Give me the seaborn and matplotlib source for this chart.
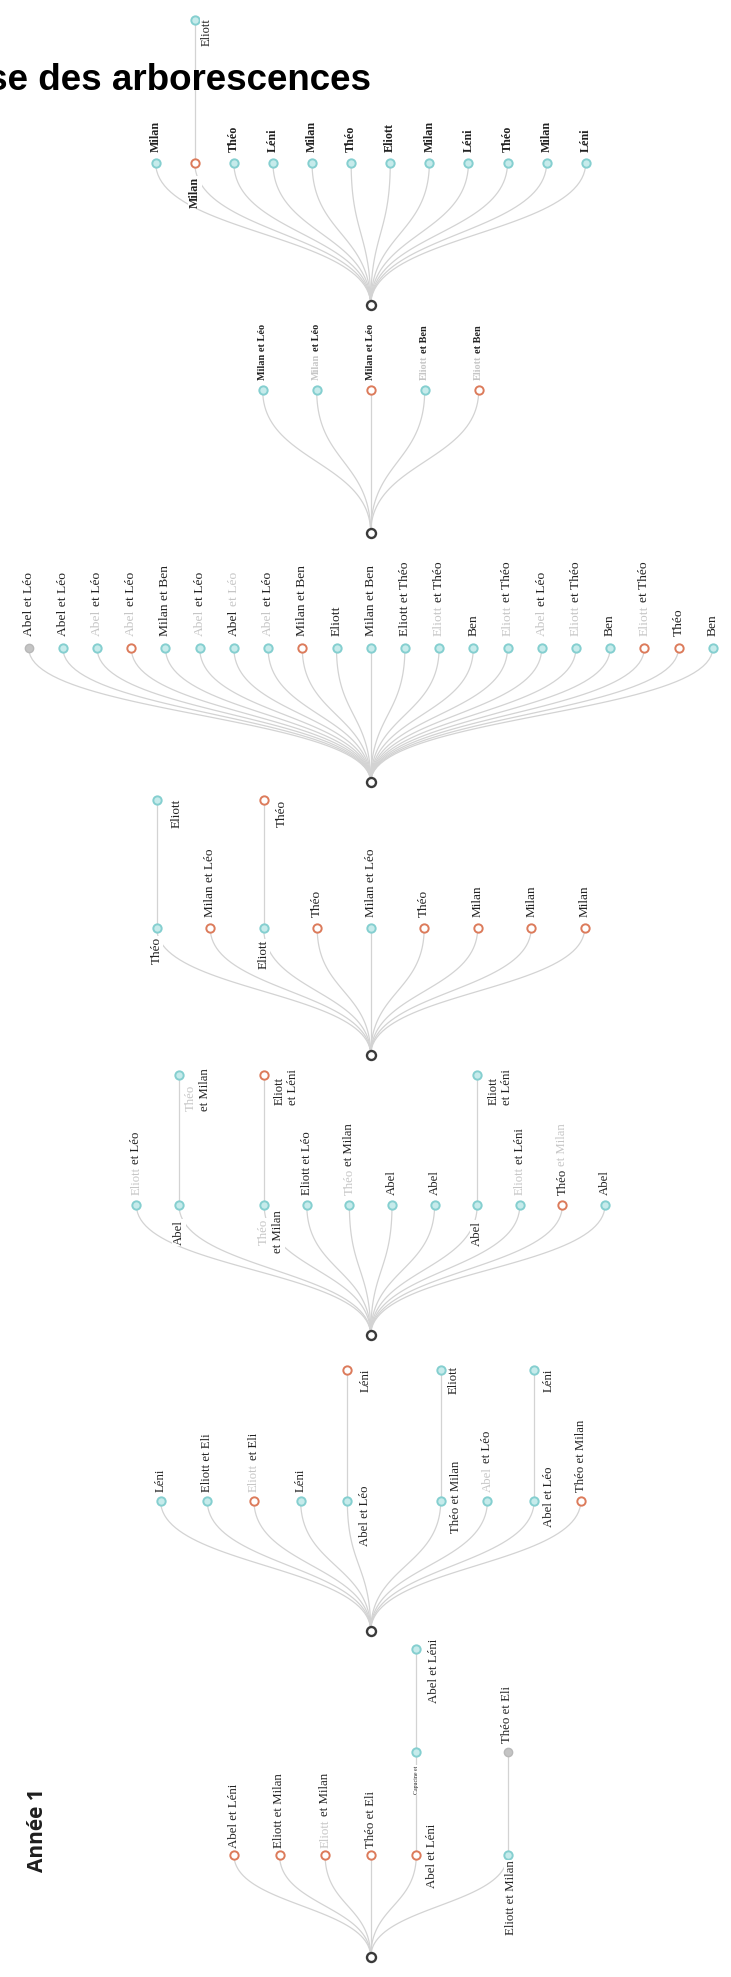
import re
import numpy as np
import pandas as pd
import matplotlib
matplotlib.use("Agg")
import matplotlib.pyplot as plt
import seaborn as sns

# ---------------- data ----------------
# "[..]" marks the parts of a label printed in light grey, "\n" a line break.
# kinds: t = teal node, o = orange ring, g = grey node
A_labels = ["Milan", "Milan", "Théo", "Léni", "Milan", "Théo", "Eliott", "Milan",
            "Léni", "Théo", "Milan", "Léni"]
A_kinds = ["t", "o", "t", "t", "t", "t", "t", "t", "t", "t", "t", "t"]
A_slots = list(range(12))
A_children = {1: [("Eliott", "t")]}

B_labels = ["Milan et Léo", "[Milan] et Léo", "Milan et Léo", "[Eliott] et Ben", "[Eliott] et Ben"]
B_kinds = ["t", "t", "o", "t", "o"]
B_slots = list(range(5))
B_children = {}

C_labels = ["Abel et Léo", "Abel et Léo", "[Abel] et Léo", "[Abel] et Léo", "Milan et Ben",
            "[Abel] et Léo", "Abel[ et Léo]", "[Abel] et Léo", "Milan et Ben", "Eliott",
            "Milan et Ben", "Eliott et Théo", "[Eliott] et Théo", "Ben", "[Eliott] et Théo",
            "[Abel] et Léo", "[Eliott] et Théo", "Ben", "[Eliott] et Théo", "Théo", "Ben"]
C_kinds = ["g", "t", "t", "o", "t", "t", "t", "t", "o", "t", "t",
           "t", "t", "t", "t", "t", "t", "t", "o", "o", "t"]
C_slots = list(range(21))
C_children = {}

D_labels = ["Théo", "Milan et Léo", "Eliott", "Théo", "Milan et Léo", "Théo", "Milan", "Milan", "Milan"]
D_kinds = ["t", "o", "t", "o", "t", "o", "o", "o", "o"]
D_slots = list(range(9))
D_children = {0: [("Eliott", "t")], 2: [("Théo", "o")]}

E_labels = ["[Eliott] et Léo", "Abel", "[Théo]\net Milan", "Eliott et Léo", "[Théo] et Milan",
            "Abel", "Abel", "Abel", "[Eliott] et Léni", "Théo[ et Milan]", "Abel"]
E_kinds = ["t", "t", "t", "t", "t", "t", "t", "t", "t", "o", "t"]
E_slots = [0, 1, 3, 4, 5, 6, 7, 8, 9, 10, 11]
E_children = {1: [("[Théo]\net Milan", "t")], 3: [("Eliott\net Léni", "o")],
              8: [("Eliott\net Léni", "t")]}

F_labels = ["Léni", "Eliott et Eli", "[Eliott] et Eli", "Léni", "Abel et Léo",
            "Théo et Milan", "[Abel] et Léo", "Abel et Léo", "Théo et Milan"]
F_kinds = ["t", "t", "o", "t", "t", "t", "t", "t", "o"]
F_slots = [0, 1, 2, 3, 4, 6, 7, 8, 9]
F_children = {4: [("Léni", "o")], 6: [("Eliott", "t")], 8: [("Léni", "t")]}

G_labels = ["Abel et Léni", "Eliott et Milan", "[Eliott] et Milan", "Théo et Eli",
            "Abel et Léni", "Eliott et Milan"]
G_kinds = ["o", "o", "o", "o", "o", "t"]
G_slots = [0, 1, 2, 3, 4, 6]
G_children = {4: [("Capucine et", "t"), ("Abel et Léni", "t")], 6: [("Théo et Eli", "g")]}

TITLE = "Analyse des arborescences"
YEAR = "Année 1"

# ---------------- layout / style ----------------
W_PX, H_PX = 731, 1977
CX = 370.7
DARK, GREY = "#222222", "#c6c6c6"
EDGE = "#d3d3d3"
NODE_STYLE = {
    "t": dict(color="#c6ebeb", edgecolor="#85cfd0", linewidth=1.4, s=36),
    "o": dict(color="white", edgecolor="#dc7b5b", linewidth=1.4, s=36),
    "g": dict(color="#c4c4c4", edgecolor="#b8b8b8", linewidth=1.0, s=36),
    "r": dict(color="white", edgecolor="#3a3a3a", linewidth=1.7, s=42),
}

trees = [
    dict(labels=A_labels, kinds=A_kinds, slots=A_slots, children=A_children,
         n=12, dx=39.1, root=305.0, step=142.5, fs=8.7, weight="bold", gap=11,
         over={(1, 1): ("D", 0, 14), (1, 2): ("C", 12, 12, dict(fs=9, weight="normal"))}),
    dict(labels=B_labels, kinds=B_kinds, slots=B_slots, children=B_children,
         n=5, dx=54.0, root=533.0, step=142.7, fs=7.4, weight="bold", gap=10, over={}),
    dict(labels=C_labels, kinds=C_kinds, slots=C_slots, children=C_children,
         n=21, dx=34.2, root=782.0, step=134.0, fs=9.7, weight="normal", gap=12, over={}),
    dict(labels=D_labels, kinds=D_kinds, slots=D_slots, children=D_children,
         n=9, dx=53.5, root=1055.0, step=127.3, fs=9.5, weight="normal", gap=11,
         over={(0, 1): ("D", 0, 9), (2, 1): ("D", 0, 12),
               (0, 2): ("C", 20, 13), (2, 2): ("C", 18, 13)}),
    dict(labels=E_labels, kinds=E_kinds, slots=E_slots, children=E_children,
         n=12, dx=42.6, root=1335.0, step=130.0, fs=9.2, weight="normal", gap=10,
         over={(1, 1): ("D", 0, 15), (8, 1): ("D", 0, 16), (3, 1): ("C", 0, 27),
               (1, 2): ("U", 12, 36), (3, 2): ("U", 15, 30), (8, 2): ("U", 16, 30)}),
    dict(labels=F_labels, kinds=F_kinds, slots=F_slots, children=F_children,
         n=10, dx=46.7, root=1631.0, step=130.5, fs=9.2, weight="normal", gap=9,
         over={(4, 1): ("C", 18, 15), (6, 1): ("C", 15, -4), (8, 1): ("C", 15, -4),
               (4, 2): ("C", 18, 10), (6, 2): ("C", 13, 10), (8, 2): ("C", 15, 10)}),
    dict(labels=G_labels, kinds=G_kinds, slots=G_slots, children=G_children,
         n=7, dx=45.6, root=1957.3, step=102.7, fs=9.3, weight="normal", gap=7,
         over={(4, 1): ("C", 16, 1), (6, 1): ("D", 3, 6),
               (4, 2): ("D", 0, 14, dict(fs=4.2)), (4, 3): ("C", 18, 22),
               (6, 2): ("U", 0, -9)}),
]
LINE_SP = 14

# ---------------- figure ----------------
sns.set_theme(style="white")
plt.rcParams["font.family"] = ["Liberation Serif", "DejaVu Serif"]

fig = plt.figure(figsize=(W_PX / 100, H_PX / 100), dpi=100)
ax = fig.add_axes([0, 0, 1, 1])
renderer = fig.canvas.get_renderer()


def bezier(x0, y0, x1, y1, n=50):
    t = np.linspace(0, 1, n)
    ym = (y0 + y1) / 2
    bx = (1 - t) ** 3 * x0 + 3 * (1 - t) ** 2 * t * x0 + 3 * (1 - t) * t ** 2 * x1 + t ** 3 * x1
    by = (1 - t) ** 3 * y0 + 3 * (1 - t) ** 2 * t * ym + 3 * (1 - t) * t ** 2 * ym + t ** 3 * y1
    return bx, by


def parse(line):
    segs = []
    for part in re.split(r"(\[[^\]]*\])", line):
        if not part:
            continue
        if part.startswith("["):
            segs.append((part[1:-1], GREY))
        else:
            segs.append((part, DARK))
    return segs


def measure(s, fs, weight):
    t = ax.text(0, 0, s, fontsize=fs, fontweight=weight)
    w = t.get_window_extent(renderer).width
    t.remove()
    return w


def put_label(x, y, text, place, fs, weight):
    mode, ox, oy = place[:3]
    if len(place) > 3:
        fs = place[3].get("fs", fs)
        weight = place[3].get("weight", weight)
    for i, line in enumerate(text.split("\n")):
        segs = parse(line)
        plain = "".join(s for s, _ in segs)
        w = measure(plain, fs, weight)
        lx = x + ox + i * LINE_SP
        if mode == "U":
            start = y + oy
        elif mode == "D":
            start = y + oy + w
        else:
            start = y + oy + w / 2
        bbox = None if mode == "U" else dict(fc="white", ec="none", pad=0.6)
        for k, (s, col) in enumerate(segs):
            piece = s.strip()
            if k == 0:
                off = 0.0
            else:
                upto = "".join(p for p, _ in segs[:k + 1]).rstrip()
                off = measure(upto, fs, weight) - measure(piece, fs, weight)
            ax.text(lx, start - off, piece, color=col, bbox=bbox, rotation=90,
                    rotation_mode="anchor", ha="left", va="center",
                    fontsize=fs, fontweight=weight, zorder=5)


edge_rows, node_rows, label_jobs = [], [], []
eid = 0
for tr in trees:
    rx, ry = CX, tr["root"]
    node_rows.append((rx, ry, "r"))
    for lab, kind, slot in zip(tr["labels"], tr["kinds"], tr["slots"]):
        x = CX + (slot - (tr["n"] - 1) / 2) * tr["dx"]
        y = ry - tr["step"]
        bx, by = bezier(rx, ry, x, y)
        edge_rows += [(eid, a, b) for a, b in zip(bx, by)]
        eid += 1
        node_rows.append((x, y, kind))
        place = tr["over"].get((slot, 1), ("U", 0, -tr["gap"]))
        label_jobs.append((x, y, lab, place, tr["fs"], tr["weight"]))
        px, py = x, y
        for lev, (clab, ckind) in enumerate(tr["children"].get(slot, []), start=2):
            cy = ry - lev * tr["step"]
            edge_rows += [(eid, px, py), (eid, x, cy)]
            eid += 1
            node_rows.append((x, cy, ckind))
            place = tr["over"].get((slot, lev), ("U", 0, -tr["gap"]))
            label_jobs.append((x, cy, clab, place, tr["fs"], tr["weight"]))
            px, py = x, cy

edges = pd.DataFrame(edge_rows, columns=["eid", "x", "y"])
nodes = pd.DataFrame(node_rows, columns=["x", "y", "kind"])

sns.lineplot(data=edges, x="x", y="y", units="eid", estimator=None, sort=False,
             color=EDGE, linewidth=0.9, ax=ax, legend=False, zorder=1)
for kind, st in NODE_STYLE.items():
    sub = nodes[nodes["kind"] == kind]
    if len(sub):
        sns.scatterplot(data=sub, x="x", y="y", marker="o", ax=ax, legend=False,
                        zorder=3, **st)

ax.set_xlim(0, W_PX)
ax.set_ylim(H_PX, 0)
ax.axis("off")

for job in label_jobs:
    put_label(*job)

ax.text(371, 90, TITLE, ha="right", va="baseline", fontsize=26.5, fontweight="bold",
        family=["Liberation Sans", "DejaVu Sans"], color="black", zorder=7)
ax.text(37.5, 1830, YEAR, rotation=90, ha="center", va="center", fontsize=15,
        fontweight="bold", family=["Open Sans", "DejaVu Sans"], color="#1e1e1e", zorder=7)

fig.savefig("out.png", dpi=100, facecolor="white")
